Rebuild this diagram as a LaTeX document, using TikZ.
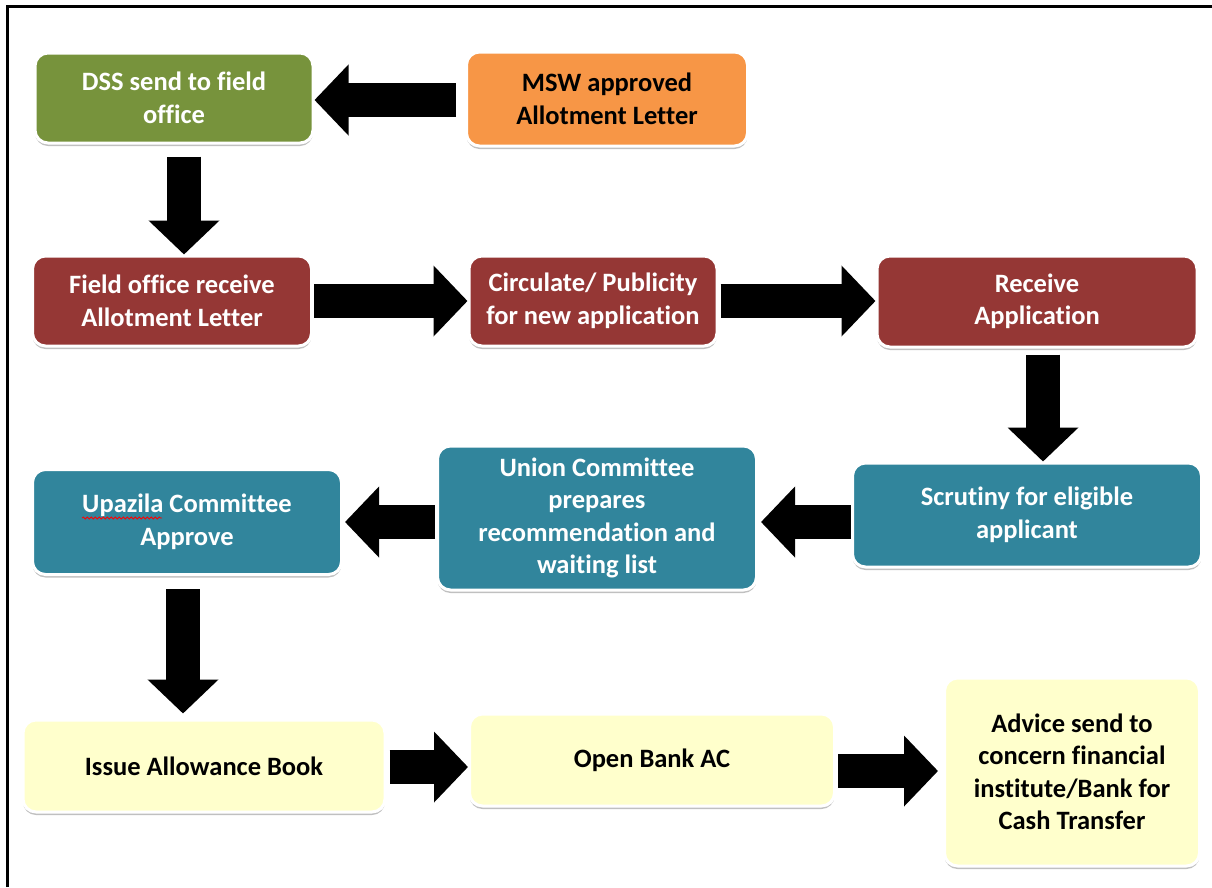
\documentclass[tikz,border=0pt]{standalone}
\usepackage{fontspec}
\setmainfont{Carlito}[Ligatures=NoCommon]
\usetikzlibrary{arrows.meta,shadows,calc,decorations.pathmorphing}
\definecolor{cgreen}{HTML}{77933C}
\definecolor{corange}{HTML}{F79646}
\definecolor{cred}{HTML}{953735}
\definecolor{cteal}{HTML}{31859C}
\definecolor{cyellow}{HTML}{FFFFCC}
\tikzset{
  box/.style={draw=white, line width=3pt, rounded corners=13pt, inner sep=2pt,
    align=center, font=\fontsize{26.5}{32.5}\selectfont\bfseries,
    drop shadow={shadow xshift=0pt, shadow yshift=-3pt, opacity=0.35, fill=black!70}},
  gbox/.style={box, fill=cgreen, text=white},
  obox/.style={box, fill=corange, text=black},
  rbox/.style={box, fill=cred, text=white},
  tbox/.style={box, fill=cteal, text=white},
  ybox/.style={box, fill=cyellow, text=black},
  blk/.style={line width=34pt, black, -{Triangle[width=69pt,length=34pt]}},
}
\begin{document}
\begin{tikzpicture}[x=1pt,y=-1pt]
\useasboundingbox (0,0) rectangle (1212,887);
\fill[white] (0,0) rectangle (1212,887);
\draw[line width=3pt] (7,887) -- (7,6) -- (1212,6);

\node[gbox, minimum width=278pt, minimum height=90pt] (DSS) at (174,98) {DSS send to field\\office};
\node[obox, minimum width=281pt, minimum height=94pt] (MSW) at (607,99) {MSW approved\\Allotment Letter};
\node[rbox, minimum width=279pt, minimum height=90pt] (FLD) at (172,301) {Field office receive\\Allotment Letter};
\node[rbox, minimum width=248pt, minimum height=90pt] (CIR) at (593,301) {Circulate/ Publicity\\for new application};
\node[rbox, minimum width=320pt, minimum height=91pt] (REC) at (1037,301.5) {Receive\\Application};
\node[tbox, minimum width=349pt, minimum height=104pt] (SCR) at (1027,515) {Scrutiny for eligible\\applicant};
\node[tbox, minimum width=319pt, minimum height=144pt] (UNI) at (597,518) {Union Committee\\prepares\\recommendation and\\waiting list};
\node[tbox, minimum width=309pt, minimum height=105pt] (UPA) at (187,522) {Upazila Committee\\Approve};
\node[ybox, minimum width=362pt, minimum height=92pt] (ISS) at (204,766) {Issue Allowance Book};
\node[ybox, minimum width=365pt, minimum height=92pt] (OPN) at (652,760) {Open Bank AC};
\node[ybox, minimum width=255pt, minimum height=188pt] (ADV) at (1072,772) {Advice send to\\concern financial\\institute/Bank for\\Cash Transfer};

\draw[red, line width=0.8pt, decorate, decoration={snake, amplitude=1pt, segment length=4pt}] (82,518) -- (162,518);

\draw[blk] ([xshift=-9pt,yshift=-1pt]MSW.west) -- ([yshift=-1pt]MSW.west -| DSS.east);
\draw[blk] ([xshift=10pt,yshift=-12pt]DSS.south) -- ([xshift=10pt]DSS.south |- FLD.north);
\draw[blk] ([xshift=1pt]FLD.east) -- (FLD.east -| CIR.west);
\draw[blk] ([xshift=2pt]CIR.east) -- (CIR.east -| REC.west);
\draw[blk] ([xshift=6pt,yshift=-6pt]REC.south) -- ([xshift=6pt]REC.south |- SCR.north);
\draw[blk] ([yshift=-7pt]SCR.west) -- ([yshift=-7pt,xshift=3pt]SCR.west -| UNI.east);
\draw[blk] ([yshift=-4pt,xshift=-1pt]UNI.west) -- ([yshift=-4pt,xshift=2pt]UNI.west -| UPA.east);
\draw[blk] ([xshift=-4pt,yshift=-13pt]UPA.south) -- ([xshift=-4pt,yshift=5pt]UPA.south |- ISS.north);
\draw[blk] ([xshift=3pt,yshift=-1pt]ISS.east) -- ([yshift=-1pt]ISS.east -| OPN.west);
\draw[blk] ([xshift=2pt,yshift=-11pt]OPN.east) -- ([yshift=-11pt,xshift=-5pt]OPN.east -| ADV.west);
\end{tikzpicture}
\end{document}
